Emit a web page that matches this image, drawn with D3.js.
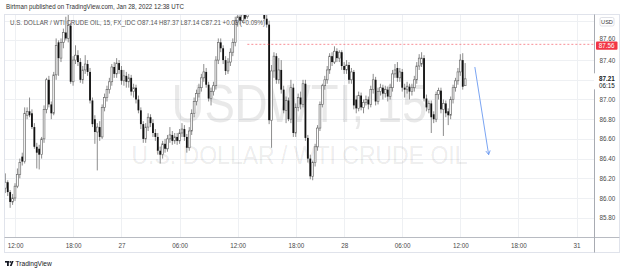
<!DOCTYPE html>
<html><head><meta charset="utf-8">
<script src="https://cdn.jsdelivr.net/npm/d3@7/dist/d3.min.js"></script>
<style>html,body{margin:0;padding:0;background:#fff;overflow:hidden}text{font-family:"Liberation Sans",Arial,sans-serif}</style>
</head><body>
<svg id="c" width="625" height="271"></svg>
<script>
// ---------- data ----------
const startBar = -4; // bar index of first candle (15-minute bars, 0 = Jan 26 12:00)
const opens = [
86.10,86.16,86.06,85.96,86.00,86.12,86.24,86.42,86.37,86.84,
86.88,86.86,86.72,86.52,86.50,86.44,86.60,86.90,87.20,86.95,
86.86,87.25,87.58,87.42,87.58,87.68,87.62,87.75,87.18,87.40,
87.45,87.38,87.20,87.30,87.36,87.28,86.99,86.80,86.67,86.72,
86.62,86.92,87.02,87.10,87.18,87.33,87.26,87.37,87.30,87.19,
87.24,87.18,87.22,87.08,87.12,87.00,86.89,86.75,86.60,86.72,
86.82,86.76,86.66,86.62,86.48,86.44,86.55,86.50,86.60,86.64,
86.58,86.62,86.58,86.66,86.70,86.62,86.51,86.68,86.86,86.98,
87.06,87.12,87.22,87.28,87.15,87.01,87.08,87.14,87.40,87.58,
87.52,87.40,87.29,87.38,87.48,87.58,87.78,87.84,87.80,87.86,
87.84,87.95,88.00,88.05,87.98,88.02,87.96,87.92,87.82,87.76,
86.79,87.29,87.44,87.20,87.30,87.10,86.89,86.99,86.80,87.12,
86.66,86.92,87.02,86.95,87.16,86.61,86.40,86.22,86.36,86.52,
86.71,86.95,87.14,87.20,87.30,87.44,87.38,87.49,87.42,87.48,
87.34,87.30,87.35,87.20,87.28,87.00,86.91,87.04,86.92,86.97,
87.00,86.95,87.10,87.20,86.98,87.08,87.12,87.06,87.10,87.03,
87.12,87.26,87.32,87.22,87.28,87.12,87.10,87.13,87.08,87.12,
87.20,87.34,87.36,87.42,87.01,86.90,86.96,86.85,86.80,87.05,
87.09,86.90,86.96,86.88,86.84,87.00,87.12,87.19,87.28,87.40,
87.14];
const highs = [
86.25,86.18,86.08,86.04,86.15,86.30,86.40,86.46,86.92,86.92,
87.02,86.90,86.76,86.56,86.54,86.62,86.94,87.22,87.24,86.98,
87.28,87.62,87.60,87.62,87.72,87.84,87.86,87.78,87.44,87.55,
87.50,87.42,87.34,87.45,87.40,87.32,87.02,86.84,86.76,86.78,
86.95,87.06,87.14,87.22,87.36,87.38,87.42,87.40,87.34,87.30,
87.28,87.26,87.25,87.16,87.15,87.04,86.92,86.78,86.76,86.86,
86.85,86.80,86.70,86.66,86.52,86.58,86.60,86.64,86.72,86.68,
86.66,86.66,86.70,86.76,86.74,86.65,86.72,86.90,87.02,87.10,
87.16,87.26,87.36,87.32,87.18,87.12,87.18,87.44,87.62,87.62,
87.55,87.44,87.42,87.52,87.62,87.84,87.88,87.88,87.92,87.90,
87.98,88.04,88.08,88.08,88.06,88.05,88.00,87.95,87.86,87.80,
87.35,87.48,87.47,87.42,87.40,87.14,87.03,87.02,87.20,87.16,
86.96,87.06,87.08,87.20,87.20,86.64,86.44,86.38,86.55,86.74,
86.98,87.16,87.24,87.34,87.47,87.48,87.54,87.52,87.50,87.50,
87.38,87.40,87.38,87.32,87.30,87.04,87.08,87.07,87.00,87.04,
87.03,87.14,87.26,87.23,87.12,87.16,87.15,87.14,87.13,87.16,
87.30,87.36,87.38,87.32,87.31,87.16,87.18,87.16,87.16,87.24,
87.38,87.46,87.48,87.45,87.05,86.99,86.99,86.88,87.08,87.12,
87.12,87.00,86.99,86.91,87.03,87.15,87.22,87.32,87.46,87.47,
87.37];
const lows = [
86.05,86.02,85.90,85.93,85.97,86.10,86.20,86.33,86.35,86.80,
86.82,86.70,86.50,86.30,86.29,86.40,86.56,86.86,86.92,86.80,
86.84,87.20,87.24,87.38,87.52,87.60,87.58,87.16,87.14,87.36,
87.34,87.17,87.16,87.26,87.24,86.96,86.72,86.55,86.28,86.58,
86.60,86.88,86.98,87.06,87.14,87.22,87.22,87.26,87.15,87.14,
87.12,87.12,87.04,87.02,86.96,86.86,86.70,86.56,86.56,86.68,
86.72,86.62,86.58,86.44,86.35,86.40,86.46,86.47,86.56,86.54,
86.55,86.54,86.55,86.62,86.58,86.46,86.48,86.64,86.82,86.94,
87.02,87.08,87.18,87.12,86.98,86.94,87.04,87.10,87.36,87.48,
87.36,87.25,87.26,87.34,87.44,87.54,87.74,87.76,87.78,87.80,
87.82,87.91,87.96,87.94,87.93,87.92,87.89,87.80,87.73,86.75,
86.51,87.22,87.16,87.16,87.06,86.86,86.76,86.78,86.76,86.62,
86.62,86.88,86.90,86.92,86.58,86.36,86.19,86.18,86.32,86.48,
86.68,86.92,87.10,87.16,87.26,87.34,87.36,87.38,87.38,87.30,
87.26,87.26,87.16,87.16,86.90,86.86,86.88,86.89,86.86,86.94,
86.90,86.92,87.06,86.94,86.95,87.04,87.00,87.02,86.98,87.00,
87.08,87.22,87.18,87.18,87.08,87.02,87.06,87.00,87.04,87.08,
87.16,87.30,87.33,86.98,86.88,86.86,86.66,86.76,86.77,87.00,
86.86,86.63,86.82,86.74,86.80,86.96,87.08,87.15,87.24,87.10,
87.14];
const closes = [
86.16,86.06,85.96,86.00,86.12,86.24,86.36,86.37,86.86,86.88,
86.84,86.72,86.52,86.46,86.44,86.60,86.90,87.20,86.95,86.86,
87.25,87.55,87.42,87.58,87.68,87.62,87.75,87.18,87.40,87.45,
87.38,87.20,87.30,87.36,87.28,86.99,86.75,86.67,86.72,86.62,
86.92,87.02,87.10,87.18,87.33,87.26,87.37,87.30,87.19,87.24,
87.18,87.22,87.08,87.12,87.00,86.89,86.75,86.60,86.72,86.82,
86.76,86.66,86.62,86.48,86.44,86.55,86.50,86.60,86.64,86.58,
86.62,86.58,86.66,86.70,86.62,86.51,86.68,86.86,86.98,87.06,
87.12,87.22,87.28,87.15,87.01,87.08,87.14,87.40,87.58,87.52,
87.40,87.29,87.38,87.48,87.58,87.80,87.84,87.80,87.86,87.82,
87.95,88.00,88.05,87.98,88.02,87.96,87.92,87.82,87.76,86.79,
87.29,87.44,87.20,87.30,87.10,86.89,86.99,86.80,87.12,86.66,
86.92,87.02,86.95,87.16,86.61,86.40,86.22,86.36,86.52,86.71,
86.95,87.14,87.20,87.30,87.44,87.38,87.49,87.42,87.48,87.34,
87.30,87.35,87.20,87.28,86.94,86.91,87.04,86.92,86.97,87.00,
86.95,87.10,87.20,86.98,87.08,87.12,87.06,87.10,87.03,87.12,
87.26,87.30,87.22,87.28,87.12,87.10,87.13,87.08,87.12,87.20,
87.34,87.42,87.42,87.01,86.92,86.96,86.82,86.80,87.05,87.09,
86.90,86.96,86.86,86.84,87.00,87.12,87.19,87.28,87.40,87.13,
87.21];

const timeTickBars   = [0, 24, 44, 68, 92, 116, 136, 160, 184, 208, 232];
const timeTickLabels = ["12:00","18:00","27","06:00","12:00","18:00","28","06:00","12:00","18:00","31"];
const priceGridTicks = [85.8, 86.0, 86.2, 86.4, 86.6, 86.8, 87.0, 87.2, 87.4, 87.6, 87.8];
const priceLabelTicks = [85.8, 86.0, 86.2, 86.4, 86.6, 86.8, 87.0, 87.4, 87.6];

const publishLine = "Birtman published on TradingView.com, Jan 28, 2022 12:38 UTC";
const symbolTitle = "U.S. DOLLAR / WTI CRUDE OIL, 15, FX_IDC";
const watermarkBig = "USDWTI, 15";
const watermarkSmall = "U.S. DOLLAR / WTI CRUDE OIL";
const currencyLabel = "USD";
const countdown = "06:15";
const alertPrice = 87.56, alertFromBar = 96;
const arrowFrom = {bar: 190, price: 87.33};
const arrowTo   = {bar: 195.7, price: 86.44};

// ---------- layout ----------
const P = {left: 4.5, right: 594.5, top: 14.5, bottom: 237.5, frameRight: 619.5, frameBottom: 252.5};
const svg = d3.select("#c");

const x = d3.scaleLinear().domain([0, 232]).range([15, 576.5]);
const y = d3.scaleLinear().domain([85.8, 87.6]).range([217.7, 40.4]);

const bars = closes.map((c, k) => ({i: startBar + k, o: opens[k], h: highs[k], l: lows[k], c}));

svg.append("defs").append("clipPath").attr("id", "plot")
  .append("rect").attr("x", P.left).attr("y", P.top).attr("width", P.right - P.left).attr("height", P.bottom - P.top);

// grid
const grid = svg.append("g").attr("stroke", "#eef0f3").attr("stroke-width", 1);
grid.selectAll(".v").data(timeTickBars).join("line")
  .attr("x1", d => Math.round(x(d)) + 0.5).attr("x2", d => Math.round(x(d)) + 0.5)
  .attr("y1", P.top).attr("y2", P.bottom);
grid.selectAll(".h").data(priceGridTicks).join("line")
  .attr("x1", P.left).attr("x2", P.right)
  .attr("y1", d => Math.round(y(d)) + 0.5).attr("y2", d => Math.round(y(d)) + 0.5);

// watermark
const cx = (P.left + P.right) / 2;
svg.append("text").attr("x", cx).attr("y", 122).attr("text-anchor", "middle")
  .attr("font-size", 54).attr("fill", "#000").attr("fill-opacity", 0.085)
  .attr("textLength", 256).attr("lengthAdjust", "spacingAndGlyphs").text(watermarkBig);
svg.append("text").attr("x", cx).attr("y", 164).attr("text-anchor", "middle")
  .attr("font-size", 25).attr("fill", "#000").attr("fill-opacity", 0.085)
  .attr("textLength", 336).attr("lengthAdjust", "spacingAndGlyphs").text(watermarkSmall);

// candles
const cg = svg.append("g").attr("clip-path", "url(#plot)");
const bw = 1.8;
cg.selectAll(".wick").data(bars).join("line")
  .attr("x1", d => x(d.i)).attr("x2", d => x(d.i))
  .attr("y1", d => y(d.h)).attr("y2", d => y(d.l))
  .attr("stroke", "#777").attr("stroke-width", 0.85);
cg.selectAll(".body").data(bars).join("rect")
  .attr("x", d => x(d.i) - bw / 2).attr("width", bw)
  .attr("y", d => y(Math.max(d.o, d.c)))
  .attr("height", d => Math.max(0.8, Math.abs(y(d.o) - y(d.c))))
  .attr("fill", d => d.c >= d.o ? "#ffffff" : "#111111")
  .attr("stroke", d => d.c >= d.o ? "#666" : "none")
  .attr("stroke-width", 0.65);

// horizontal dashed line
cg.append("line").attr("x1", x(alertFromBar)).attr("x2", P.right)
  .attr("y1", y(alertPrice)).attr("y2", y(alertPrice))
  .attr("stroke", "#f23645").attr("stroke-opacity", 0.7).attr("stroke-width", 0.8).attr("stroke-dasharray", "2,2");

// arrow
const ax1 = x(arrowFrom.bar), ay1 = y(arrowFrom.price), ax2 = x(arrowTo.bar), ay2 = y(arrowTo.price);
const ang = Math.atan2(ay2 - ay1, ax2 - ax1), hl = 4.5;
const ag = cg.append("g").attr("stroke", "#6b9af0").attr("stroke-width", 0.9).attr("fill", "none");
ag.append("line").attr("x1", ax1).attr("y1", ay1).attr("x2", ax2).attr("y2", ay2);
ag.append("path").attr("d", `M${ax2 - hl * Math.cos(ang - 0.5)},${ay2 - hl * Math.sin(ang - 0.5)}L${ax2},${ay2}L${ax2 - hl * Math.cos(ang + 0.5)},${ay2 - hl * Math.sin(ang + 0.5)}`);

// frame and axis separators
svg.append("rect").attr("x", P.left).attr("y", P.top).attr("width", P.frameRight - P.left).attr("height", P.frameBottom - P.top)
  .attr("fill", "none").attr("stroke", "#e0e3eb").attr("stroke-width", 1);
svg.append("line").attr("x1", P.left).attr("x2", P.frameRight).attr("y1", P.bottom).attr("y2", P.bottom)
  .attr("stroke", "#b8bbc2");
svg.append("line").attr("x1", P.right).attr("x2", P.right).attr("y1", P.top).attr("y2", P.frameBottom)
  .attr("stroke", "#a8abb2");

// price axis
const ya = svg.append("g").attr("transform", `translate(${P.right},0)`)
  .call(d3.axisRight(y).tickValues(priceLabelTicks).tickFormat(d3.format(".2f")).tickSize(0).tickPadding(5));
ya.select(".domain").remove();
ya.selectAll("text").attr("font-size", 6.3).attr("fill", "#4a4a4a").attr("font-family", "Liberation Sans, Arial, sans-serif");
// the top label sits partly behind the alert label, as in the reference
ya.selectAll(".tick").filter(d => d === 87.6).select("text").attr("dy", "-0.05em");

// time axis
const xa = svg.append("g").attr("transform", `translate(0,${P.bottom})`)
  .call(d3.axisBottom(x).tickValues(timeTickBars).tickFormat((d, k) => timeTickLabels[k]).tickSize(0).tickPadding(6));
xa.select(".domain").remove();
xa.selectAll("text").attr("font-size", 6.3).attr("fill", "#4a4a4a").attr("font-family", "Liberation Sans, Arial, sans-serif");

// alert price label
const ry = y(alertPrice) + 1.3;
svg.append("rect").attr("x", 596).attr("y", ry - 4.1).attr("width", 21.5).attr("height", 8.2).attr("rx", 1).attr("fill", "#f23645");
svg.append("text").attr("x", 606.7).attr("y", ry + 2.2).attr("text-anchor", "middle").attr("font-size", 6.3).attr("fill", "#fff")
  .text(d3.format(".2f")(alertPrice));

// last price label
const last = bars[bars.length - 1], prev = bars[bars.length - 2];
const ly = y(last.c);
svg.append("rect").attr("x", P.right - 0.5).attr("y", ly - 5.5).attr("width", P.frameRight - P.right).attr("height", 16).attr("fill", "#fff");
svg.append("text").attr("x", 599).attr("y", ly + 2.2).attr("font-size", 6.3).attr("font-weight", "bold").attr("fill", "#131722")
  .text(d3.format(".2f")(last.c));
svg.append("text").attr("x", 599).attr("y", ly + 9).attr("font-size", 6.3).attr("fill", "#131722").text(countdown);

// currency box
svg.append("rect").attr("x", 600).attr("y", 17.5).attr("width", 14).attr("height", 8.5).attr("rx", 1.5)
  .attr("fill", "#fff").attr("stroke", "#d1d4dc").attr("stroke-width", 0.7);
svg.append("text").attr("x", 607).attr("y", 24).attr("text-anchor", "middle").attr("font-size", 5.6).attr("fill", "#333").text(currencyLabel);

// header
svg.append("text").attr("x", 6).attr("y", 9.2).attr("font-size", 6.6).attr("fill", "#333")
  .attr("textLength", 178).attr("lengthAdjust", "spacingAndGlyphs").text(publishLine);
const chg = last.c - prev.c;
const f2 = d3.format(".2f");
const ohlc = `O${f2(last.o)}  H${f2(last.h)}  L${f2(last.l)}  C${f2(last.c)}  ${chg >= 0 ? "+" : ""}${f2(chg)} (${chg >= 0 ? "+" : ""}${f2(chg / prev.c * 100)}%)`;
svg.append("text").attr("x", 10).attr("y", 25).attr("font-size", 6.4).attr("fill", "#555")
  .attr("textLength", 255).attr("lengthAdjust", "spacingAndGlyphs").text(symbolTitle + "  " + ohlc);

// TradingView logo
const lg = svg.append("g").attr("fill", "#131722");
lg.append("rect").attr("x", 5).attr("y", 261).attr("width", 4).attr("height", 1.6);
lg.append("rect").attr("x", 7).attr("y", 261).attr("width", 1.8).attr("height", 5);
lg.append("circle").attr("cx", 10.3).attr("cy", 261.9).attr("r", 0.9);
lg.append("path").attr("d", "M11.8,261 L13.6,261 L11.6,266 L9.8,266 Z");
svg.append("text").attr("x", 15.5).attr("y", 266.2).attr("font-size", 6.6).attr("fill", "#131722").text("TradingView");
</script>
</body></html>
